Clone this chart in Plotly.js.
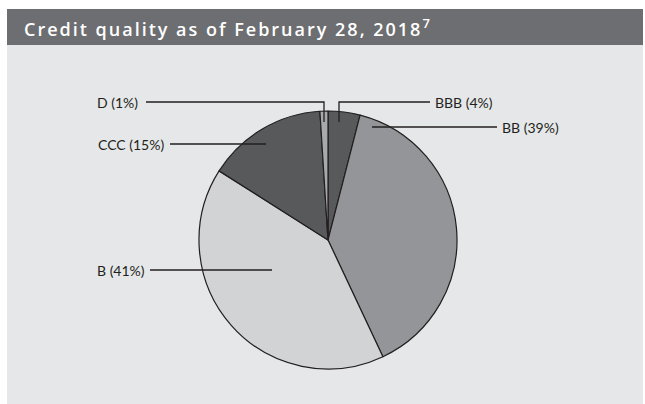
<!DOCTYPE html>
<html>
<head>
<meta charset="utf-8">
<script src="https://cdn.plot.ly/plotly-3.0.1.min.js"></script>
<style>html,body{margin:0;padding:0;background:#fff;}#chart{width:645px;height:404px;}</style>
</head>
<body>
<div id="chart"></div>
<script>
// Data
const ratings = ["BBB", "BB", "B", "CCC", "D"];
const shares = [4, 39, 41, 15, 1];
const sliceColors = ["#58595b", "#939598", "#d1d3d4", "#58595b", "#a7a9ac"];
const titleText = "Credit quality as of February 28, 2018";
const footnote = "7";

const W = 645, H = 404;
const px = x => x / W;
const py = y => 1 - y / H;

// label layout (pixel positions of text and leader lines)
const labelLayout = {
  "BBB": {tx: 433, ty: 102, anchor: "left",  path: [[430,102],[339,102],[339,122]]},
  "BB":  {tx: 500, ty: 127, anchor: "left",  path: [[497,127],[372,127]]},
  "B":   {tx: 147, ty: 270, anchor: "right", path: [[150,270],[272,270]]},
  "CCC": {tx: 166, ty: 144, anchor: "right", path: [[170,144],[266,144]]},
  "D":   {tx: 140, ty: 102, anchor: "right", path: [[146,102],[324,102],[324,122]]}
};

const shapes = [
  {type: "rect", xref: "paper", yref: "paper", x0: px(7), x1: px(643), y0: py(404), y1: py(9),
   fillcolor: "#e6e7e8", line: {width: 0}, layer: "below"},
  {type: "rect", xref: "paper", yref: "paper", x0: px(7), x1: px(643), y0: py(45), y1: py(9),
   fillcolor: "#6d6e71", line: {width: 0}, layer: "below"}
];
const annotations = [];
ratings.forEach((r, i) => {
  const L = labelLayout[r];
  const d = L.path.map((p, k) => (k ? "L" : "M") + px(p[0]) + "," + py(p[1])).join(" ");
  shapes.push({type: "path", xref: "paper", yref: "paper", path: d,
    line: {color: "#231f20", width: 1.3}, layer: "above"});
  annotations.push({xref: "paper", yref: "paper", x: px(L.tx), y: py(L.ty),
    xanchor: L.anchor, yanchor: "middle", showarrow: false,
    text: r + " (" + shares[i] + "%)",
    font: {family: "Lato, sans-serif", size: 14, color: "#231f20"}});
});
annotations.push({xref: "paper", yref: "paper", x: px(22), y: py(27), xanchor: "left", yanchor: "middle",
  showarrow: false, text: titleText + "<sup><span style=\"font-size:13px\">" + footnote + "</span></sup>",
  font: {family: "'Open Sans', sans-serif", size: 18, weight: 600, color: "#ffffff"}});

const trace = {
  type: "pie", labels: ratings, values: shares, sort: false, direction: "clockwise", rotation: 0,
  marker: {colors: sliceColors, line: {color: "#231f20", width: 1.2}},
  textinfo: "none", hoverinfo: "label+percent", showlegend: false,
  domain: {x: [px(199), px(457)], y: [py(369), py(111)]}
};

Plotly.newPlot("chart", [trace], {
  width: W, height: H, margin: {l: 0, r: 0, t: 0, b: 0},
  paper_bgcolor: "#ffffff", showlegend: false,
  shapes: shapes, annotations: annotations
}, {displayModeBar: false, staticPlot: true}).then(gd => {
  // widen the title's letter spacing like the reference, keeping its left edge
  gd.querySelectorAll(".annotation-text").forEach(t => {
    if (t.textContent.indexOf("Credit") === 0) {
      const b0 = t.getBBox();
      t.style.letterSpacing = "2px";
      const b1 = t.getBBox();
      t.setAttribute("transform", "translate(" + (b0.x - b1.x) + ",0)");
    }
  });
});
</script>
</body>
</html>
